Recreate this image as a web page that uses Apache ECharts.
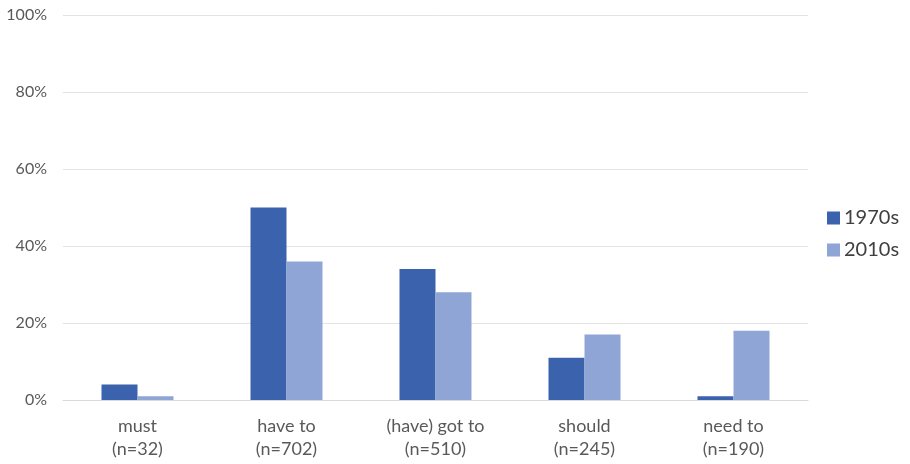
<!DOCTYPE html>
<html><head><meta charset="utf-8">
<script src="https://cdn.jsdelivr.net/npm/echarts@6/dist/echarts.min.js"></script>
<style>html,body{margin:0;padding:0;background:#fff}#c{width:910px;height:464px}</style>
</head><body><div id="c"></div>
<script>
const categories = ['must\n(n=32)', 'have to\n(n=702)', '(have) got to\n(n=510)', 'should\n(n=245)', 'need to\n(n=190)'];
const series1970s = [4, 50, 34, 11, 1];
const series2010s = [1, 36, 28, 17, 18];
const seriesNames = ['1970s', '2010s'];
const yTicks = [0, 20, 40, 60, 80, 100];

const chart = echarts.init(document.getElementById('c'), null, {renderer: 'canvas'});
chart.setOption({
  animation: false,
  backgroundColor: '#fff',
  textStyle: {fontFamily: 'Lato'},
  grid: {left: 63, right: 102, top: 15, bottom: 64, containLabel: false},
  legend: {
    orient: 'vertical', left: 822, top: 203,
    itemWidth: 13, itemHeight: 13, itemGap: 12,
    icon: 'rect',
    textStyle: {fontSize: 20, color: '#404040', fontFamily: 'Lato', padding: [0,0,0,-1]},
    data: seriesNames
  },
  xAxis: {
    type: 'category', data: categories,
    axisLine: {lineStyle: {color: '#d9d9d9'}},
    axisTick: {show: false},
    axisLabel: {fontSize: 18, color: '#595959', lineHeight: 23, margin: 15, interval: 0}
  },
  yAxis: {
    type: 'value', min: yTicks[0], max: yTicks[yTicks.length-1], interval: 20,
    axisLine: {show: false}, axisTick: {show: false},
    splitLine: {lineStyle: {color: '#e3e3e3'}},
    axisLabel: {fontSize: 16, color: '#595959', margin: 16, formatter: v => v + '%'}
  },
  series: [
    {name: seriesNames[0], type: 'bar', data: series1970s, barWidth: 36, barGap: '0%',
     itemStyle: {color: '#3b63ad'}},
    {name: seriesNames[1], type: 'bar', data: series2010s, barWidth: 36, barGap: '0%',
     itemStyle: {color: '#8fa5d5'}}
  ]
});
</script></body></html>
